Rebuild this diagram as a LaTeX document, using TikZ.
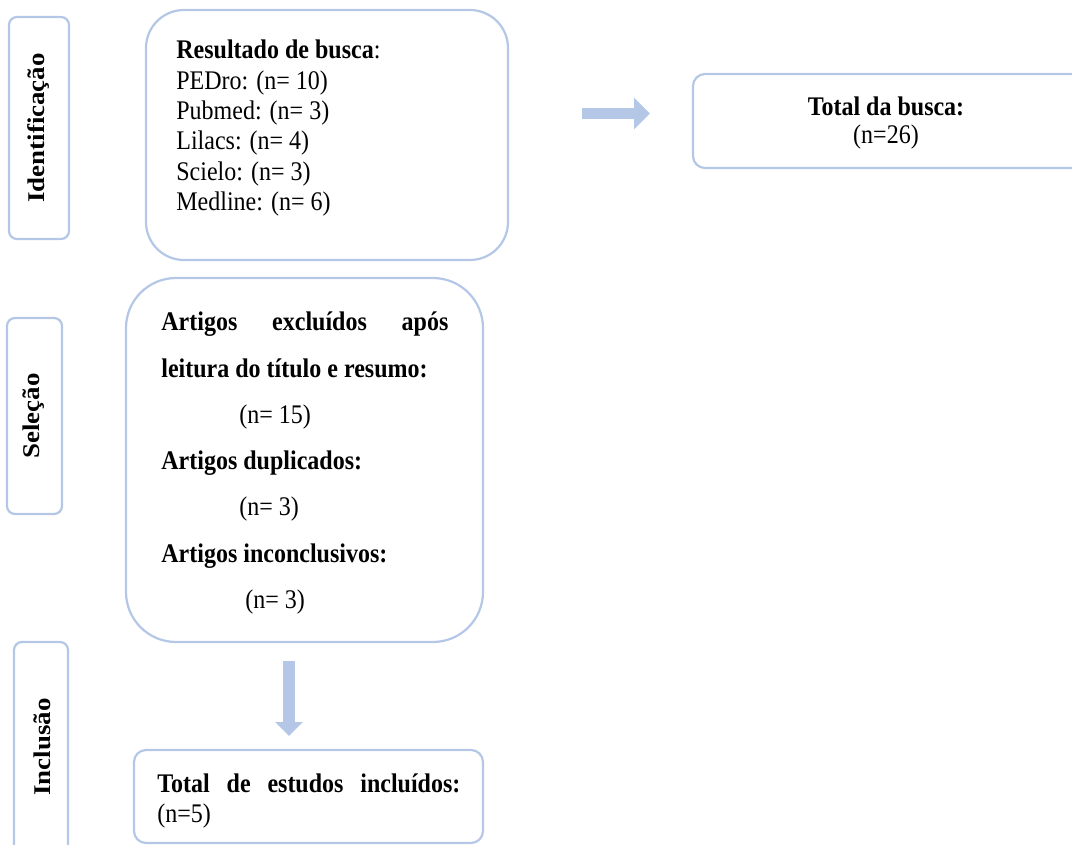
\documentclass[tikz,border=0pt]{standalone}
\usepackage{graphicx}
\usepackage{fontspec}
\setmainfont{Liberation Serif}
\usetikzlibrary{fit,arrows.meta}
\definecolor{boxblue}{HTML}{B4C7E7}
\newcommand{\vstr}[1]{\scalebox{1}[1.12]{#1}}
\newcommand{\hstr}[1]{\scalebox{1.12}[1]{#1}}
\tikzset{
  frame/.style={draw=boxblue, line width=1.1pt, inner sep=0pt, rectangle},
  txt/.style={inner sep=0pt, font=\fontsize{12}{14}\selectfont, anchor=base west},
  ctxt/.style={inner sep=0pt, font=\fontsize{12}{14}\selectfont, anchor=base},
  side/.style={inner sep=0pt, font=\fontsize{12}{14}\selectfont\bfseries, rotate=90},
  bigarrow/.style={draw=boxblue, line width=#1},
}
\begin{document}
\begin{tikzpicture}[x=0.5pt,y=-0.5pt]
\useasboundingbox (0,0) rectangle (1072,845);
\clip (0,0) rectangle (1072,845);
% side labels
\node[frame, rounded corners=4pt, fit={(9,17)(69,239)}] (idbox) {};
\node[side] (idtxt) at (39,128) {\hstr{Identificação}};
\node[frame, rounded corners=4pt, fit={(7,318)(62,514)}] (selbox) {};
\node[side] (seltxt) at (34,416) {\hstr{Seleção}};
\node[frame, rounded corners=4pt, fit={(14,642)(68,880)}] (incbox) {};
\node[side] (inctxt) at (42,747) {\hstr{Inclusão}};
% search box
\node[frame, rounded corners=19pt, fit={(146,10)(508,260)}] (search) {};
\node[txt] (s1) at (176,59) {\vstr{\textbf{Resultado de busca}:}};
\node[txt] (s2) at (176,89.3) {\vstr{PEDro: (n= 10)}};
\node[txt] (s3) at (176,119.6) {\vstr{Pubmed: (n= 3)}};
\node[txt] (s4) at (176,149.9) {\vstr{Lilacs: (n= 4)}};
\node[txt] (s5) at (176,180.2) {\vstr{Scielo: (n= 3)}};
\node[txt] (s6) at (176,210.5) {\vstr{Medline: (n= 6)}};
% total box
\node[frame, rounded corners=6pt, fit={(693,74)(1100,168)}] (total) {};
\node[ctxt] (t1) at (886,116) {\vstr{\textbf{Total da busca:}}};
\node[ctxt] (t2) at (886,144) {\vstr{(n=26)}};
% selection box
\node[frame, rounded corners=25pt, fit={(126,278)(483,642)}] (sel) {};
\node[txt] (e1) at (161,331) {\vstr{\makebox[143.5pt][s]{\textbf{Artigos}\hfill\textbf{excluídos}\hfill\textbf{após}}}};
\node[txt] (e2) at (161,378) {\vstr{\textbf{leitura do título e resumo:}}};
\node[txt] (e3) at (239,423) {\vstr{(n= 15)}};
\node[txt] (e4) at (161,470) {\vstr{\textbf{Artigos duplicados:}}};
\node[txt] (e5) at (239,516) {\vstr{(n= 3)}};
\node[txt] (e6) at (161,562) {\vstr{\textbf{Artigos inconclusivos:}}};
\node[txt] (e7) at (245,608) {\vstr{(n= 3)}};
% final box
\node[frame, rounded corners=6pt, fit={(134,750)(483,843)}] (final) {};
\node[txt] (f1) at (157,792) {\vstr{\makebox[151.5pt][s]{\textbf{Total}\hfill\textbf{de}\hfill\textbf{estudos}\hfill\textbf{incluídos:}}}};
\node[txt] (f2) at (157,822) {\vstr{(n=5)}};
% arrows
\coordinate (ra) at (582,113.5);
\coordinate (rb) at (650,113.5);
\draw[bigarrow=5.5pt, -{Triangle[length=8pt,width=15.5pt]}, boxblue] (ra) -- (rb);
\coordinate (da) at (289,661);
\coordinate (db) at (289,736);
\draw[bigarrow=6pt, -{Triangle[length=7pt,width=13.5pt]}, boxblue] (da) -- (db);
\end{tikzpicture}
\end{document}
